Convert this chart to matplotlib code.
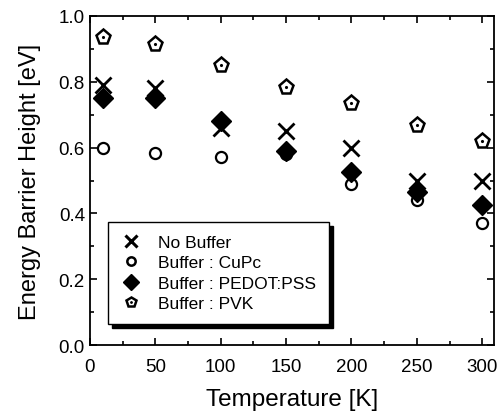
import numpy as np
import matplotlib
matplotlib.use('Agg')
import matplotlib.pyplot as plt
from matplotlib.ticker import MultipleLocator
from matplotlib.legend_handler import HandlerTuple

plt.rcParams['font.family'] = ['Liberation Sans', 'DejaVu Sans']

temperature = [10, 50, 100, 150, 200, 250, 300]
no_buffer = [0.79, 0.78, 0.66, 0.65, 0.60, 0.50, 0.50]
cupc = [0.60, 0.585, 0.57, 0.58, 0.49, 0.44, 0.37]
pedot_pss = [0.75, 0.75, 0.68, 0.59, 0.525, 0.465, 0.425]
pvk = [0.935, 0.915, 0.85, 0.785, 0.735, 0.67, 0.62]

labels = ['No Buffer', 'Buffer : CuPc', 'Buffer : PEDOT:PSS', 'Buffer : PVK']

fig = plt.figure(figsize=(5.02, 4.14), dpi=100)
ax = fig.add_axes([0.179, 0.164, 0.805, 0.795])

h1, = ax.plot(temperature, no_buffer, 'x', color='black', ms=11, mew=2, ls='none')
h2, = ax.plot(temperature, cupc, 'o', mfc='white', mec='black', ms=8, mew=1.6, ls='none')
h3, = ax.plot(temperature, pedot_pss, 'D', color='black', ms=10, ls='none')
h4, = ax.plot(temperature, pvk, 'p', mfc='white', mec='black', ms=11, mew=1.8, ls='none')
h4d, = ax.plot(temperature, pvk, '.', color='black', ms=2.5, ls='none')

# smaller copies of the open markers for the legend
l2, = ax.plot([], [], 'o', mfc='white', mec='black', ms=6, mew=1.8, ls='none')
l4, = ax.plot([], [], 'p', mfc='white', mec='black', ms=7.5, mew=1.8, ls='none')
l4d, = ax.plot([], [], '.', color='black', ms=2, ls='none')
l1, = ax.plot([], [], 'x', color='black', ms=9, mew=2.2, ls='none')
l3, = ax.plot([], [], 'D', color='black', ms=8, ls='none')

leg = ax.legend([l1, l2, l3, (l4, l4d)], labels, loc='lower left',
                bbox_to_anchor=(0.045, 0.064), fontsize=12.5, frameon=True,
                fancybox=False, edgecolor='black', framealpha=1,
                shadow={'color': 'black', 'ox': 3, 'oy': -3, 'alpha': 1},
                handler_map={tuple: HandlerTuple(ndivide=1)},
                handlelength=1.2, handletextpad=0.9, labelspacing=0.3,
                borderpad=0.75, borderaxespad=0)
leg.get_frame().set_linewidth(1.0)

ax.set_xlim(0, 309)
ax.set_ylim(0, 1.0)
ax.xaxis.set_major_locator(MultipleLocator(50))
ax.xaxis.set_minor_locator(MultipleLocator(25))
ax.yaxis.set_major_locator(MultipleLocator(0.2))
ax.yaxis.set_minor_locator(MultipleLocator(0.1))
ax.tick_params(which='both', direction='in', top=True, right=True, labelsize=13.5, width=1.2)
ax.tick_params(which='major', length=5)
ax.tick_params(which='minor', length=3)
ax.tick_params(axis='x', pad=9)
ax.yaxis.set_major_formatter(plt.FormatStrFormatter('%.1f'))
for s in ax.spines.values():
    s.set_linewidth(1.3)

ax.set_xlabel('Temperature [K]', fontsize=17.5, labelpad=10)
ax.set_ylabel('Energy Barrier Height [eV]', fontsize=17, labelpad=13)

fig.savefig('out.png', dpi=100)
